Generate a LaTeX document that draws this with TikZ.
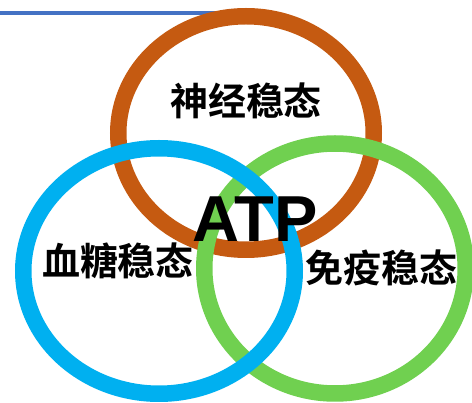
\documentclass[tikz,border=0pt]{standalone}
\usepackage{fontspec}
\setmainfont{Liberation Sans}
\newfontfamily\cjk{Noto Sans CJK SC Bold}
\definecolor{ringbrown}{RGB}{197,90,17}
\definecolor{ringblue}{RGB}{0,176,240}
\definecolor{ringgreen}{RGB}{112,208,80}
\definecolor{topline}{RGB}{68,114,196}
\tikzset{
  ring/.style={line width=16.5pt},
  cjklabel/.style={inner sep=0pt, font=\cjk\fontsize{38}{40}\selectfont},
}
\begin{document}
\begin{tikzpicture}[x=1pt,y=-1pt]
\useasboundingbox (0,0) rectangle (472,403);
\coordinate (ls) at (0,13);
\coordinate (le) at (240,13);
\draw[topline, line width=4pt] (ls) -- (le);
\draw[ring, ringbrown] (246,133) ellipse [x radius=127.75, y radius=116.75];
\draw[ring, ringgreen] (335,268.5) ellipse [x radius=130.75, y radius=125];
\draw[ring, ringblue] (159,271) ellipse [x radius=135.75, y radius=122.75];
\node[cjklabel] (n) at (246,101) {神经稳态};
\node[cjklabel] (b) at (118,261) {血糖稳态};
\node[cjklabel] (i) at (381,268) {免疫稳态};
\node[inner sep=0pt, font=\bfseries\fontsize{65}{68}\selectfont] (atp) at (255,219) {ATP};
\end{tikzpicture}
\end{document}
